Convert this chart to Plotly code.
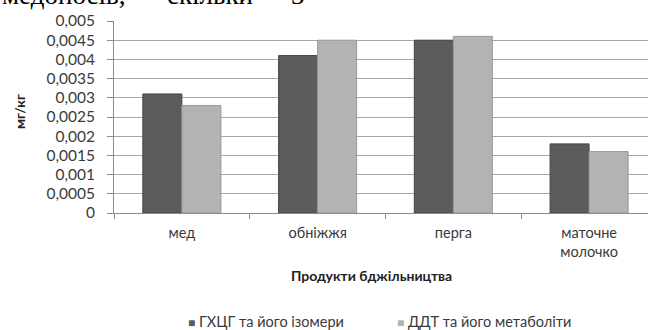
import plotly.graph_objects as go

# Residues of organochlorine pesticides in bee products, mg/kg
products = ["мед", "обніжжя", "перга", "маточне<br>молочко"]
hch_values = [0.0031, 0.0041, 0.0045, 0.0018]
ddt_values = [0.0028, 0.0045, 0.0046, 0.0016]
series_names = ["ГХЦГ та його ізомери", "ДДТ та його метаболіти"]
series_colors = ["#5c5c5c", "#b3b3b3"]

y_ticks = [0, 0.0005, 0.001, 0.0015, 0.002, 0.0025, 0.003, 0.0035, 0.004, 0.0045, 0.005]
y_tick_labels = ["0", "0,0005", "0,001", "0,0015", "0,002", "0,0025",
                 "0,003", "0,0035", "0,004", "0,0045", "0,005"]

W, H = 648, 330
left, top, bottom = 114, 21, 213
plot_h = bottom - top


def py(pixel_y):
    return (bottom - pixel_y) / plot_h


def px(pixel_x):
    return (pixel_x - left) / (W - left)


sans = "Lato, 'Open Sans', sans-serif"
serif = "'Liberation Serif', 'DejaVu Serif', serif"
text_grey = "#3a3a3a"

fig = go.Figure()
fig.add_trace(go.Bar(
    x=products, y=hch_values, name=series_names[0],
    marker=dict(color=series_colors[0], line=dict(color="#454545", width=1)),
))
fig.add_trace(go.Bar(
    x=products, y=ddt_values, name=series_names[1],
    marker=dict(color=series_colors[1], line=dict(color="#9a9a9a", width=1)),
))

annotations = [
    dict(text="<b>мг/кг</b>", xref="paper", yref="paper", x=px(19), y=py(112),
         textangle=-90, showarrow=False, xanchor="center", yanchor="middle",
         font=dict(family=sans, size=14, color="#222")),
    dict(text="<b>Продукти бджільництва</b>", xref="paper", yref="paper",
         x=px(371), y=py(275), showarrow=False, xanchor="center", yanchor="middle",
         font=dict(family=sans, size=14, color="#222")),
]

# Legend entries: small square swatch followed by the series name
legend_x = [186, 395]
for name, color, lx in zip(series_names, series_colors, legend_x):
    annotations.append(dict(
        text=f"<span style='color:{color};font-size:12px'>■</span> {name}",
        xref="paper", yref="paper", x=px(lx), y=py(321),
        showarrow=False, xanchor="left", yanchor="middle",
        font=dict(family=sans, size=14.5, color=text_grey),
    ))

# Running text of the page above the chart
for word, wx in zip(["медоносів,", "скільки", "3"], [0, 165, 289]):
    annotations.append(dict(
        text=word, xref="paper", yref="paper", x=px(wx), y=py(-5),
        showarrow=False, xanchor="left", yanchor="middle",
        font=dict(family=serif, size=27, color="#000"),
    ))

fig.update_layout(
    width=W, height=H,
    margin=dict(l=left, r=0, t=top, b=H - bottom),
    paper_bgcolor="white", plot_bgcolor="white",
    barmode="group", bargap=0.425, bargroupgap=0,
    font=dict(family=sans, size=14, color=text_grey),
    showlegend=False,
    xaxis=dict(
        range=[-0.5, 3.434], showgrid=False,
        showline=True, linecolor="#8c8c8c", linewidth=1,
        ticks="outside", tickson="boundaries", ticklen=5, tickcolor="#8c8c8c",
        ticklabelstandoff=7,
        tickfont=dict(family=sans, size=14.5, color=text_grey),
    ),
    yaxis=dict(
        range=[0, 0.005], tickvals=y_ticks, ticktext=y_tick_labels,
        showgrid=True, gridcolor="#a6a6a6", gridwidth=1,
        showline=True, linecolor="#8c8c8c", linewidth=1,
        ticks="outside", ticklen=6, tickcolor="#8c8c8c",
        ticklabelstandoff=9,
        tickfont=dict(family=sans, size=15.5, color=text_grey),
        zeroline=False,
    ),
    annotations=annotations,
)

fig.write_html("out.html")
